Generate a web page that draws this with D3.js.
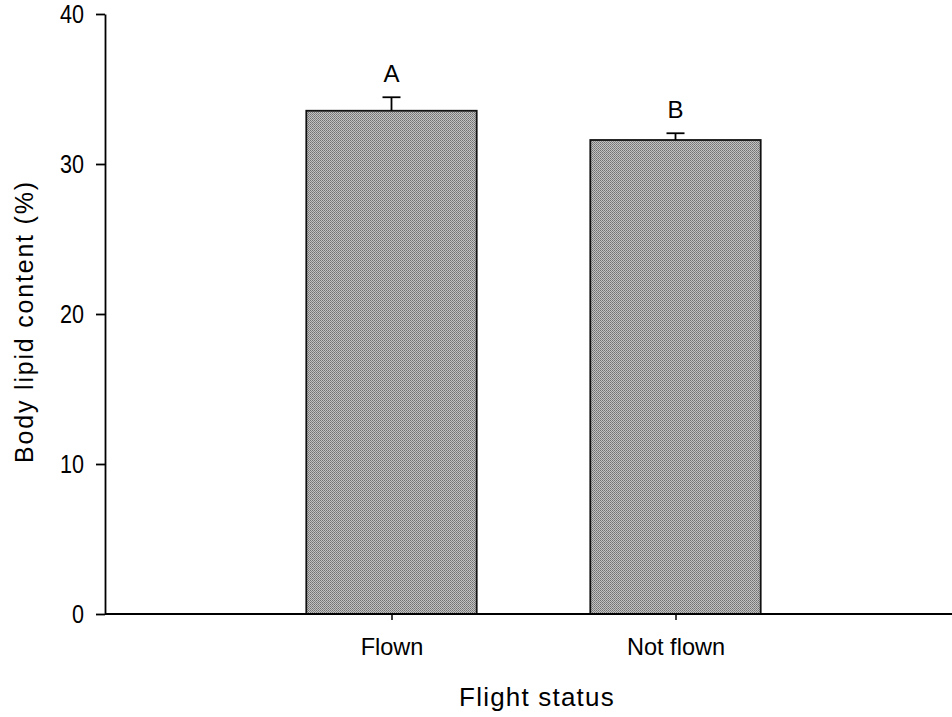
<!DOCTYPE html>
<html>
<head>
<meta charset="utf-8">
<script src="https://cdn.jsdelivr.net/npm/d3@7"></script>
<style>
  body { margin: 0; background: #fff; }
  svg text { font-family: Arial, "Liberation Sans", Helvetica, sans-serif; fill: #000; }
</style>
</head>
<body>
<svg id="chart" width="952" height="717"></svg>
<script>
// values
const categories = ['Flown', 'Not flown'];
const means = [33.55, 31.6];
const errors = [0.9, 0.45];
const letters = ['A', 'B'];
const yTicks = [0, 10, 20, 30, 40];

const width = 952,
    height = 717,
    margin = { top: 14, left: 105, bottom: 103 };

const svg = d3.select('#chart');

// squeeze a text horizontally (the original lettering is taller than it is wide)
function squeeze(sel, k) {
    sel.attr('lengthAdjust', 'spacingAndGlyphs')
        .attr('textLength', function () { return this.getComputedTextLength() * k; });
}

// halftone-like fill for the bars
const defs = svg.append('defs');
const pat = defs.append('pattern')
    .attr('id', 'dots')
    .attr('width', 2)
    .attr('height', 2)
    .attr('patternUnits', 'userSpaceOnUse');
pat.append('rect').attr('width', 2).attr('height', 2).attr('fill', '#c2c2c2');
pat.append('rect').attr('width', 1).attr('height', 1).attr('fill', '#727272');
pat.append('rect').attr('x', 1).attr('y', 1).attr('width', 1).attr('height', 1).attr('fill', '#848484');

const y = d3.scaleLinear()
    .domain([0, 40])
    .range([height - margin.bottom, margin.top]);

// categories sit at 1 and 2 on a 0..3 axis
const x = d3.scaleLinear()
    .domain([0, 3])
    .range([107.5, 959.5]);
const barW = x(0.6) - x(0);

const data = categories.map((c, i) => ({ cat: c, pos: i + 1, mean: means[i], err: errors[i], letter: letters[i] }));

// bars
svg.append('g').selectAll('rect')
    .data(data)
    .enter()
    .append('rect')
    .attr('x', d => x(d.pos) - barW / 2)
    .attr('y', d => y(d.mean))
    .attr('width', barW)
    .attr('height', d => y(0) - y(d.mean))
    .attr('fill', 'url(#dots)')
    .attr('stroke', '#111')
    .attr('stroke-width', 1.8);

// upper error bars
const eb = svg.append('g').attr('stroke', '#000').attr('stroke-width', 1.8);
eb.selectAll('.stem')
    .data(data)
    .enter()
    .append('line')
    .attr('x1', d => x(d.pos))
    .attr('x2', d => x(d.pos))
    .attr('y1', d => y(d.mean))
    .attr('y2', d => y(d.mean + d.err));
eb.selectAll('.cap')
    .data(data)
    .enter()
    .append('line')
    .attr('x1', d => x(d.pos) - 9)
    .attr('x2', d => x(d.pos) + 9)
    .attr('y1', d => y(d.mean + d.err))
    .attr('y2', d => y(d.mean + d.err));

// significance letters
svg.append('g').selectAll('text')
    .data(data)
    .enter()
    .append('text')
    .attr('x', d => x(d.pos))
    .attr('y', d => y(d.mean + d.err) - 15)
    .attr('text-anchor', 'middle')
    .style('font-size', '24px')
    .text(d => d.letter);

// y axis
const yAxis = svg.append('g')
    .attr('transform', `translate(${margin.left},0)`)
    .call(d3.axisLeft(y).tickValues(yTicks).tickSize(9).tickSizeOuter(0).tickPadding(12));
yAxis.selectAll('path, line').attr('stroke', '#000').attr('stroke-width', 1.8);
yAxis.selectAll('text').style('font-size', '26px').attr('fill', '#000').call(squeeze, 0.83);

// x axis
const xAxis = svg.append('g')
    .attr('transform', `translate(0,${y(0)})`)
    .call(d3.axisBottom(x).tickValues([1, 2]).tickFormat(d => categories[d - 1]).tickSize(6).tickPadding(18));
xAxis.select('.domain').remove();
xAxis.selectAll('line').attr('stroke', '#000').attr('stroke-width', 1.5);
xAxis.selectAll('text').style('font-size', '24px').attr('fill', '#000').call(squeeze, 0.98);
xAxis.append('line')
    .attr('x1', margin.left)
    .attr('x2', width)
    .attr('stroke', '#000')
    .attr('stroke-width', 2);

// axis titles
svg.append('text')
    .attr('x', 537)
    .attr('y', 706)
    .attr('text-anchor', 'middle')
    .style('font-size', '26px')
    .style('letter-spacing', '1.2px')
    .text('Flight status');

svg.append('text')
    .attr('transform', `translate(33,${(180 + 463) / 2}) rotate(-90)`)
    .attr('text-anchor', 'middle')
    .style('font-size', '25px')
    .style('letter-spacing', '1.8px')
    .text('Body lipid content (%)');
</script>
</body>
</html>
